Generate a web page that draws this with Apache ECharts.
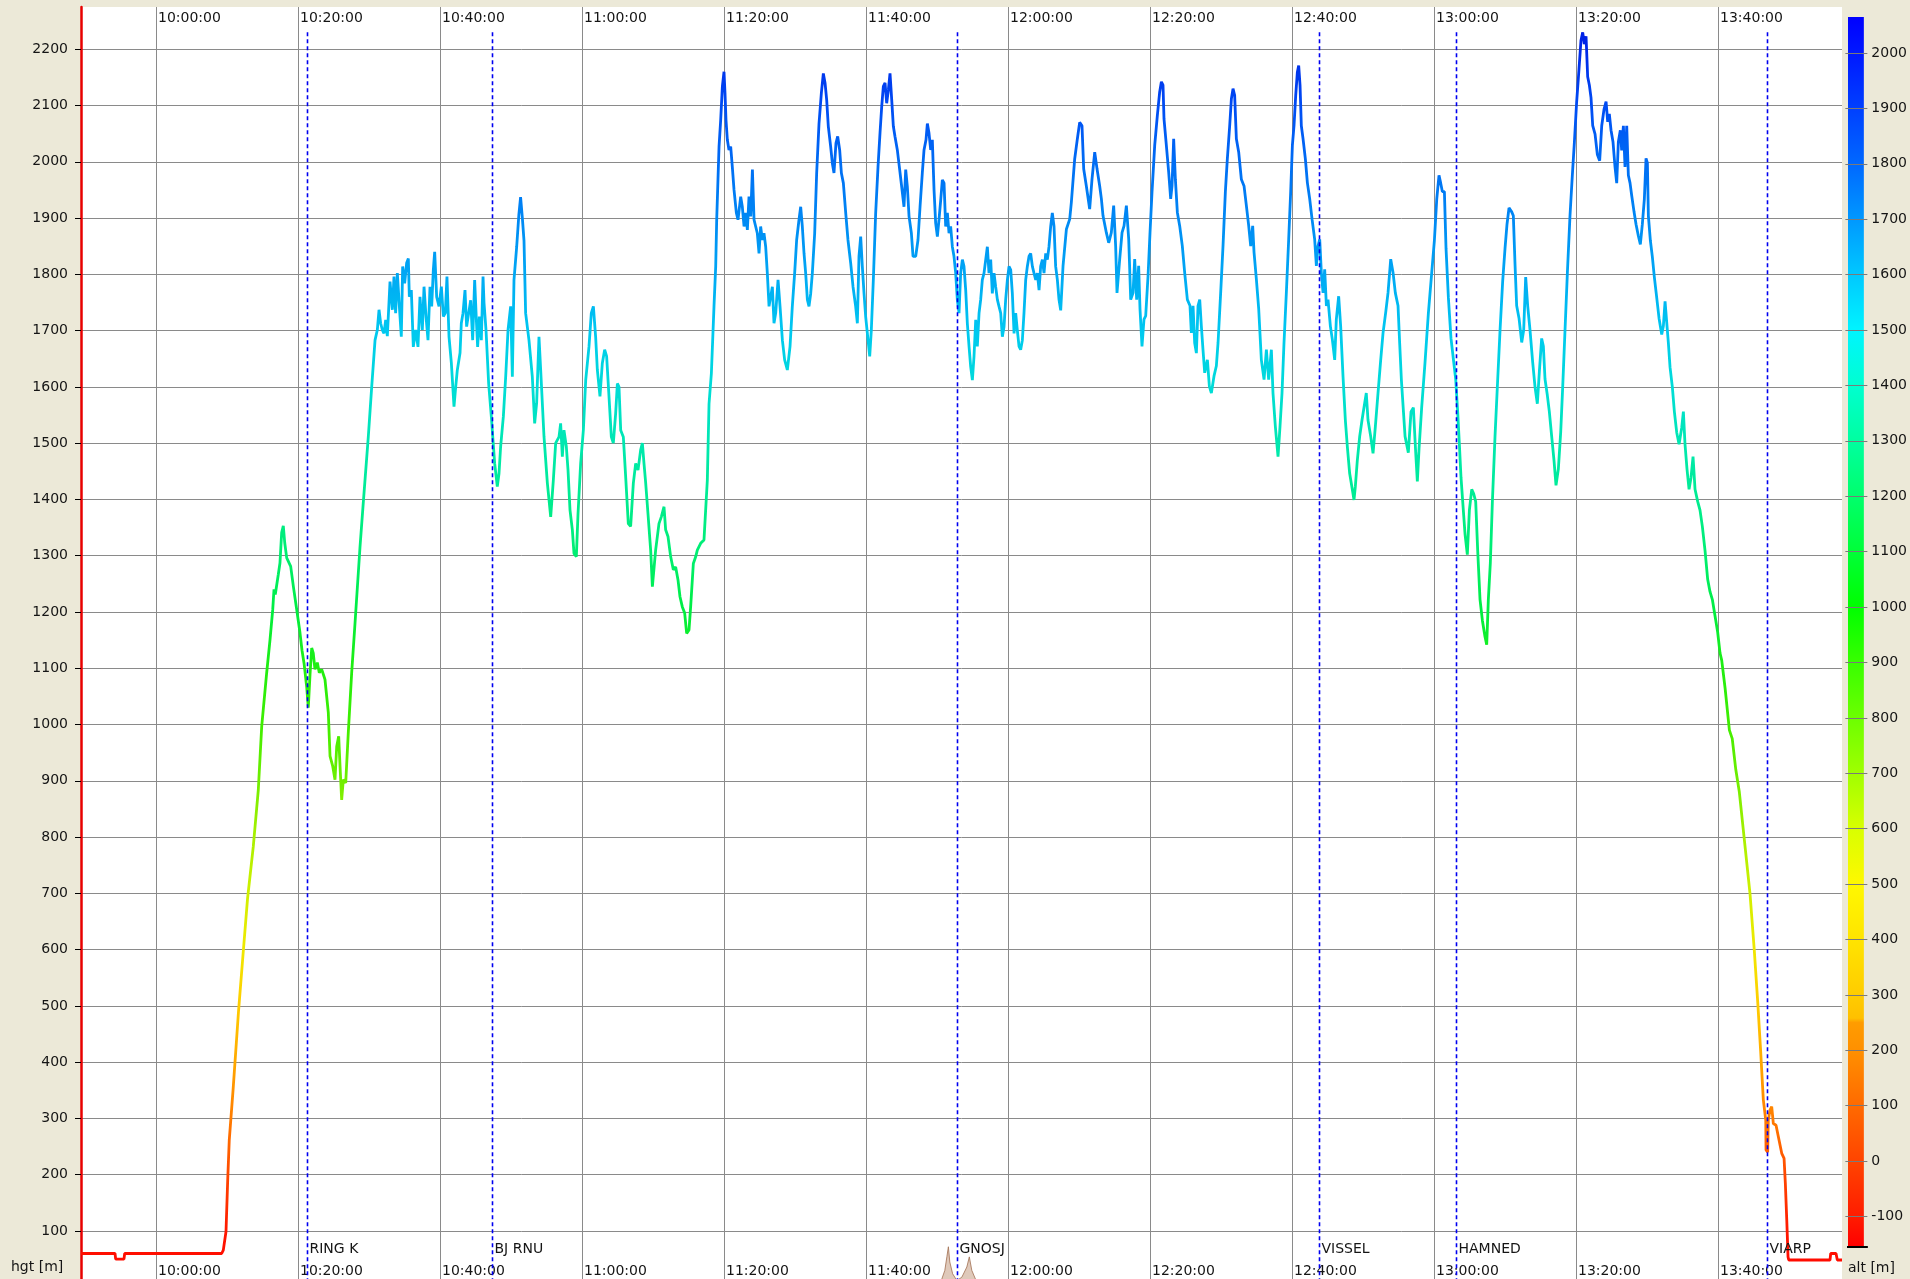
<!DOCTYPE html>
<html>
<head>
<meta charset="utf-8">
<title>Flight height profile</title>
<script src="https://cdn.jsdelivr.net/npm/echarts@6.0.0/dist/echarts.min.js"></script>
<style>
  html, body { margin: 0; padding: 0; background: #ece9d8; }
  #chart { width: 1910px; height: 1279px; }
</style>
</head>
<body>
<div id="chart"></div>
<script>
// ---------------- data ----------------
// Flight log: [minutes after 10:00:00, height in m]
const heightLog = [
  [-10.56, 60], [-5.77, 60], [-5.68, 50], [-4.51, 50], [-4.41, 60], [9.25, 60], [9.48, 66], [9.86, 99],
  [10.1, 191], [10.32, 262], [10.85, 350], [11.62, 490], [12.25, 590], [12.89, 690], [13.7, 783],
  [14.41, 884], [14.89, 997], [15.59, 1092], [16.06, 1151], [16.44, 1204], [16.62, 1240], [16.8, 1231],
  [17.23, 1267], [17.46, 1287], [17.7, 1341], [17.93, 1353], [18.13, 1323], [18.41, 1296], [18.97, 1281],
  [19.34, 1246], [19.82, 1204], [20.28, 1163], [20.56, 1132], [20.85, 1109], [21.23, 1066], [21.45, 1030],
  [21.69, 1088], [21.93, 1136], [22.15, 1127], [22.39, 1098], [22.72, 1110], [23.0, 1092], [23.34, 1098],
  [23.8, 1080], [24.27, 1021], [24.51, 944], [24.89, 926], [25.21, 902], [25.45, 961], [25.73, 979],
  [25.92, 926], [26.15, 866], [26.38, 902], [26.72, 896], [27.08, 985], [27.56, 1092], [28.03, 1180],
  [28.73, 1315], [29.2, 1395], [29.9, 1511], [30.38, 1600], [30.85, 1683],
  [31.17, 1701], [31.41, 1737], [31.64, 1713], [31.88, 1701], [32.11, 1695], [32.35, 1719], [32.58, 1690],
  [32.96, 1787], [33.29, 1737], [33.52, 1796], [33.75, 1731], [33.99, 1802], [34.32, 1734], [34.55, 1689],
  [34.74, 1814], [35.02, 1784], [35.3, 1820], [35.54, 1828], [35.68, 1760], [35.96, 1772], [36.24, 1671],
  [36.57, 1701], [36.9, 1671], [37.18, 1760], [37.51, 1701], [37.75, 1778], [38.03, 1725], [38.31, 1683],
  [38.59, 1778], [38.83, 1743], [39.06, 1808], [39.25, 1840], [39.53, 1760], [39.86, 1743], [40.19, 1778],
  [40.47, 1725], [40.75, 1731], [40.98, 1796], [41.27, 1689], [41.6, 1642], [41.97, 1565], [42.21, 1600],
  [42.44, 1630], [42.82, 1660], [43.0, 1713], [43.24, 1731], [43.52, 1772], [43.75, 1707], [44.04, 1731],
  [44.32, 1754], [44.6, 1683], [44.88, 1790], [45.12, 1719], [45.3, 1671], [45.54, 1725], [45.82, 1683],
  [46.06, 1796], [46.2, 1749], [46.48, 1701], [46.85, 1606], [47.23, 1547], [47.46, 1506], [47.7, 1464],
  [48.07, 1423], [48.31, 1446], [48.54, 1494], [48.92, 1547], [49.25, 1618], [49.58, 1701], [49.95, 1743],
  [50.19, 1618], [50.42, 1790], [50.8, 1849], [51.1, 1905], [51.35, 1937], [51.6, 1900], [51.83, 1860],
  [52.06, 1731], [52.53, 1683], [53.0, 1618], [53.33, 1535], [53.61, 1571], [53.94, 1689], [54.18, 1630],
  [54.65, 1511], [55.12, 1429], [55.59, 1369], [55.96, 1434], [56.29, 1500], [56.76, 1511], [56.99, 1535],
  [57.23, 1476], [57.46, 1523], [57.79, 1494], [58.03, 1452], [58.31, 1381], [58.64, 1346], [58.87, 1304],
  [59.2, 1298], [59.44, 1375], [59.81, 1464], [60.19, 1523], [60.52, 1612], [60.98, 1671], [61.31, 1731],
  [61.6, 1743], [61.92, 1689], [62.16, 1630], [62.53, 1583], [62.86, 1642], [63.19, 1666], [63.47, 1654],
  [63.8, 1583], [64.13, 1511], [64.41, 1500], [64.74, 1553], [64.98, 1606], [65.21, 1600], [65.45, 1523],
  [65.82, 1511], [66.15, 1440], [66.52, 1357], [66.85, 1352], [67.23, 1429], [67.56, 1464], [67.89, 1452],
  [68.26, 1488], [68.5, 1500], [68.73, 1464], [68.97, 1429], [69.29, 1375], [69.67, 1310], [69.91, 1245],
  [70.14, 1242], [70.37, 1310], [70.84, 1357], [71.17, 1369], [71.55, 1387], [71.78, 1346], [72.11, 1334],
  [72.49, 1298], [72.86, 1275], [73.19, 1280], [73.52, 1257], [73.8, 1227], [74.13, 1209], [74.46, 1198],
  [74.74, 1162], [75.07, 1168], [75.3, 1209], [75.68, 1286], [76.01, 1298], [76.24, 1310], [76.71, 1322],
  [77.18, 1328], [77.65, 1434], [77.89, 1570],
  [78.22, 1624], [78.59, 1743], [78.83, 1814], [78.97, 1897], [79.15, 1968], [79.3, 2027], [79.53, 2074],
  [79.77, 2134], [80.0, 2160], [80.14, 2122], [80.28, 2074], [80.47, 2039], [80.7, 2021], [80.94, 2027],
  [81.17, 1991], [81.41, 1950], [81.74, 1909], [81.97, 1897], [82.35, 1938], [82.58, 1920], [82.82, 1885],
  [83.05, 1909], [83.29, 1879], [83.52, 1938], [83.76, 1903], [84.0, 1986], [84.23, 1897], [84.46, 1885],
  [84.69, 1873], [84.93, 1837], [85.16, 1885], [85.4, 1861], [85.63, 1873], [85.87, 1849], [86.1, 1802],
  [86.34, 1743], [86.57, 1743], [86.81, 1778], [87.04, 1713], [87.28, 1731], [87.61, 1790], [87.89, 1743],
  [88.22, 1683], [88.54, 1648], [88.92, 1630], [89.3, 1672], [89.62, 1743], [89.95, 1802], [90.23, 1861],
  [90.56, 1897], [90.8, 1920], [91.03, 1885], [91.27, 1837], [91.5, 1802], [91.74, 1755], [91.97, 1743],
  [92.21, 1766], [92.44, 1802], [92.77, 1873], [93.05, 1980], [93.38, 2068], [93.71, 2122], [93.99, 2157],
  [94.23, 2140], [94.46, 2110], [94.69, 2063], [95.02, 2027], [95.26, 1997], [95.49, 1980], [95.77, 2033],
  [96.01, 2045], [96.29, 2021], [96.53, 1980], [96.81, 1962], [97.14, 1909], [97.46, 1861], [97.84, 1820],
  [98.17, 1778], [98.54, 1743], [98.78, 1713], [99.01, 1832], [99.25, 1867], [99.48, 1814], [99.72, 1766],
  [99.95, 1725], [100.19, 1695], [100.52, 1654], [100.75, 1701], [101.03, 1790], [101.36, 1909],
  [101.69, 1991], [101.97, 2051], [102.21, 2098], [102.44, 2134], [102.68, 2140], [102.91, 2104],
  [103.15, 2128], [103.38, 2157], [103.62, 2110], [103.85, 2063], [104.08, 2045], [104.41, 2021],
  [104.74, 1986], [105.02, 1956], [105.35, 1920], [105.59, 1986], [105.82, 1956], [106.06, 1903],
  [106.39, 1873], [106.62, 1832], [107.0, 1832], [107.32, 1861], [107.61, 1920], [107.93, 1980],
  [108.17, 2021], [108.45, 2039], [108.64, 2068], [108.87, 2051], [109.11, 2021], [109.34, 2039],
  [109.58, 1950], [109.81, 1891], [110.05, 1867], [110.28, 1897], [110.52, 1932], [110.75, 1968],
  [110.99, 1962], [111.22, 1885], [111.46, 1909], [111.69, 1873], [111.92, 1885], [112.16, 1849],
  [112.39, 1832], [112.63, 1802], [112.86, 1755], [113.1, 1731], [113.33, 1802], [113.57, 1826],
  [113.8, 1814], [114.04, 1772], [114.27, 1713], [114.51, 1672], [114.74, 1636], [114.98, 1612],
  [115.21, 1654], [115.45, 1719], [115.68, 1672], [115.92, 1731], [116.15, 1755], [116.38, 1790],
  [116.62, 1802], [116.85, 1802], [117.09, 1849], [117.32, 1802], [117.56, 1826], [117.79, 1766],
  [118.03, 1802], [118.26, 1778], [118.5, 1755], [118.73, 1743], [118.97, 1731], [119.2, 1689],
  [119.44, 1707], [119.67, 1755], [119.91, 1790], [120.14, 1814], [120.38, 1808], [120.61, 1766],
  [120.85, 1695], [121.08, 1731], [121.31, 1701], [121.55, 1672], [121.78, 1666], [122.02, 1683],
  [122.25, 1731], [122.49, 1790], [122.72, 1814], [122.96, 1832], [123.19, 1837], [123.43, 1814],
  [123.66, 1802], [123.9, 1790], [124.13, 1802], [124.37, 1772], [124.6, 1814], [124.84, 1826],
  [125.07, 1802], [125.31, 1837], [125.54, 1826], [125.77, 1849], [126.01, 1885], [126.24, 1909],
  [126.48, 1885], [126.71, 1814], [126.95, 1790], [127.18, 1755], [127.42, 1736],
  [127.75, 1815], [128.22, 1880], [128.69, 1898], [128.92, 1928], [129.39, 2005], [129.77, 2041],
  [130.09, 2070], [130.42, 2064], [130.66, 1987], [131.03, 1957], [131.5, 1916], [131.83, 1969],
  [132.21, 2017], [132.54, 1987], [132.91, 1957], [133.15, 1934], [133.38, 1904], [133.85, 1874],
  [134.18, 1856], [134.55, 1874], [134.88, 1922], [135.16, 1850], [135.35, 1767], [135.73, 1827],
  [136.06, 1874], [136.34, 1886], [136.67, 1922], [137.0, 1862], [137.28, 1755], [137.61, 1767],
  [137.84, 1827], [138.12, 1755], [138.4, 1815], [138.59, 1738], [138.87, 1672], [139.15, 1720],
  [139.39, 1726], [139.72, 1797], [140.0, 1874], [140.28, 1946], [140.66, 2029], [141.03, 2082],
  [141.36, 2124], [141.6, 2142], [141.83, 2136], [141.97, 2076], [142.3, 2029], [142.63, 1981],
  [142.91, 1934], [143.1, 1957], [143.33, 2041], [143.57, 1969], [143.85, 1910], [144.18, 1886],
  [144.55, 1850], [144.88, 1803], [145.26, 1755], [145.63, 1744], [145.82, 1696], [146.06, 1744],
  [146.29, 1678], [146.53, 1660], [146.76, 1744], [147.0, 1755], [147.23, 1708], [147.46, 1666],
  [147.7, 1625], [148.08, 1648], [148.36, 1601], [148.64, 1589], [149.01, 1619], [149.34, 1637],
  [149.58, 1678], [149.95, 1767], [150.28, 1850], [150.61, 1946], [150.89, 2005], [151.22, 2064],
  [151.46, 2112], [151.69, 2130], [151.92, 2118], [152.16, 2041], [152.49, 2017], [152.86, 1969],
  [153.24, 1957], [153.57, 1922], [153.9, 1886], [154.18, 1850], [154.46, 1886], [154.65, 1839],
  [154.98, 1791], [155.31, 1738], [155.68, 1648], [156.06, 1613], [156.39, 1666], [156.71, 1613],
  [157.09, 1666], [157.32, 1589], [157.65, 1530], [158.03, 1476], [158.31, 1530], [158.59, 1589],
  [158.87, 1678], [159.2, 1767], [159.53, 1862], [159.81, 1946], [160.05, 2029], [160.28, 2064],
  [160.52, 2118], [160.75, 2159], [160.94, 2171], [161.13, 2136], [161.31, 2064], [161.55, 2041],
  [161.88, 2005], [162.16, 1963], [162.49, 1934], [162.82, 1898], [163.19, 1862], [163.43, 1815],
  [163.66, 1850], [163.9, 1862], [164.13, 1803], [164.37, 1767], [164.6, 1809], [164.84, 1744],
  [165.07, 1755], [165.4, 1708], [165.68, 1684], [166.01, 1648], [166.24, 1720], [166.57, 1761],
  [166.85, 1708], [167.18, 1619], [167.51, 1541], [167.79, 1494], [168.12, 1446], [168.5, 1417],
  [168.73, 1399], [168.92, 1423], [169.2, 1470], [169.53, 1512], [169.86, 1541], [170.23, 1571],
  [170.46, 1589], [170.7, 1541], [171.08, 1512], [171.41, 1482], [171.74, 1530], [172.11, 1589],
  [172.49, 1648], [172.82, 1696], [173.19, 1732], [173.52, 1767], [173.9, 1827], [174.23, 1803],
  [174.55, 1767], [174.93, 1744], [175.16, 1678], [175.4, 1613],
  [175.92, 1512], [176.38, 1483], [176.76, 1556], [177.09, 1563], [177.42, 1483], [177.65, 1432],
  [177.89, 1490], [178.26, 1563], [178.73, 1643], [179.2, 1730], [179.67, 1802], [180.05, 1860],
  [180.38, 1933], [180.7, 1976], [180.94, 1962], [181.17, 1947], [181.46, 1947], [181.69, 1846],
  [182.02, 1759], [182.39, 1686], [182.72, 1650], [183.05, 1614], [183.33, 1556], [183.57, 1498],
  [183.8, 1439], [184.04, 1396], [184.37, 1338], [184.69, 1302], [184.98, 1381], [185.31, 1418],
  [185.59, 1410], [185.87, 1396], [186.15, 1309], [186.48, 1222], [186.81, 1185], [187.18, 1156],
  [187.42, 1142], [187.65, 1222], [187.93, 1287], [188.22, 1396], [188.59, 1512], [188.97, 1614],
  [189.3, 1701], [189.67, 1788], [190.0, 1846], [190.28, 1889], [190.56, 1918], [190.94, 1911],
  [191.17, 1904], [191.41, 1817], [191.64, 1744], [191.97, 1722], [192.35, 1679], [192.63, 1701],
  [192.91, 1795], [193.19, 1744], [193.52, 1701], [193.9, 1643], [194.23, 1599], [194.55, 1570],
  [194.84, 1628], [195.16, 1686], [195.4, 1672], [195.63, 1614], [195.96, 1585], [196.24, 1556],
  [196.57, 1512], [196.9, 1469], [197.18, 1425], [197.51, 1454], [197.84, 1519], [198.12, 1599],
  [198.45, 1701], [198.78, 1802], [199.15, 1904], [199.48, 1976], [199.77, 2035], [200.09, 2107],
  [200.42, 2165], [200.7, 2216], [200.94, 2230], [201.17, 2209], [201.41, 2223], [201.64, 2151],
  [201.88, 2136], [202.11, 2114], [202.35, 2064], [202.68, 2049], [203.0, 2013], [203.33, 2002],
  [203.62, 2064], [203.94, 2093], [204.23, 2107], [204.46, 2071], [204.69, 2085], [204.93, 2056],
  [205.21, 2035], [205.49, 1991], [205.73, 1962], [205.96, 2035], [206.24, 2056], [206.43, 2020],
  [206.67, 2064], [206.9, 1991], [207.14, 2064], [207.37, 1976], [207.61, 1962], [207.84, 1940],
  [208.17, 1911], [208.45, 1889], [208.78, 1868], [209.06, 1853], [209.34, 1889], [209.62, 1933],
  [209.86, 2006], [210.05, 1998], [210.19, 1904], [210.47, 1860], [210.75, 1831], [211.03, 1795],
  [211.36, 1759], [211.69, 1722], [212.07, 1693], [212.3, 1708], [212.54, 1752], [212.77, 1715],
  [213.0, 1679], [213.24, 1635], [213.57, 1599], [213.85, 1556], [214.18, 1519], [214.51, 1498],
  [214.88, 1527], [215.12, 1556], [215.35, 1498], [215.63, 1454], [215.92, 1418], [216.2, 1439],
  [216.48, 1476], [216.76, 1418], [217.14, 1396], [217.46, 1381], [217.79, 1352], [218.17, 1309],
  [218.54, 1258], [218.87, 1236], [219.2, 1222], [219.58, 1193], [219.95, 1164], [220.28, 1127],
  [220.52, 1114], [221.0, 1064], [221.6, 990], [222.0, 975], [222.5, 920], [223.0, 880], [223.9, 772],
  [224.5, 700], [225.1, 600], [225.6, 505], [226.0, 420], [226.38, 333], [226.72, 297], [226.76, 244],
  [226.99, 240], [227.08, 297], [227.32, 315], [227.56, 321], [227.79, 291], [228.17, 288], [228.49, 268],
  [228.97, 238], [229.3, 229], [229.48, 185], [229.68, 120], [229.86, 54], [229.96, 48.5], [235.77, 48.5],
  [235.87, 60], [236.62, 60], [236.8, 48.5], [237.46, 48.5]
];

// Ground profile poking above the lower edge near GNOSJ: [minutes after 10:00:00, m]
const terrainLog = [
  [109.8, 0], [110.6, 12], [111.1, 30], [111.4, 55], [111.6, 72], [111.8, 45], [112.2, 24], [112.8, 12],
  [113.5, 18], [114.2, 36], [114.55, 54], [114.9, 30], [115.5, 12], [116.2, 0]
];

// Turnpoints: [name, minutes after 10:00:00]
const waypoints = [
  ['RING K', 21.27], ['BJ RNU', 47.37], ['GNOSJ', 112.86],
  ['VISSEL', 163.85], ['HAMNED', 183.1], ['VIARP', 226.86]
];

// Axis extents and ticks
const timeRange = [-10.563, 237.46];           // minutes after 10:00:00
const timeTicks = [0, 20, 40, 60, 80, 100, 120, 140, 160, 180, 200, 220];
const hgtRange = [14.7, 2275];                 // visible height band of the plot
const hgtTicks = [100, 200, 300, 400, 500, 600, 700, 800, 900, 1000, 1100,
                  1200, 1300, 1400, 1500, 1600, 1700, 1800, 1900, 2000, 2100, 2200];
const altRange = [-155, 2065];
const altTicks = [-100, 0, 100, 200, 300, 400, 500, 600, 700, 800, 900, 1000,
                  1100, 1200, 1300, 1400, 1500, 1600, 1700, 1800, 1900, 2000];
const waypointLineTop = 2230;   // m, where the dashed turnpoint lines begin
const waypointLabelHgt = 68;    // m, height of the turnpoint names

// ---------------- styles ----------------
const FONT = 'DejaVu Sans';
const TEXT = '#151515';
const GRID_LINE = '#8a8a8a';

// line colour by height, one colour every 100 m from 0 to 2300
const hgtPalette = [
  '#ff0000', '#ff1800', '#ff4800', '#ff7c00', '#ffa800', '#ffcc00', '#f0e800', '#d0f000',
  '#a8f000', '#70ee00', '#40ee00', '#20ee10', '#00ee40', '#00ee70', '#00ec90', '#00e8b0',
  '#00dcd8', '#00c8f0', '#00a8f4', '#0088f4', '#006cf4', '#004cf4', '#0028e8', '#0010e0'
];

// colour scale bar stops (alt in m, top to bottom)
const altStops = [
  [2065, '#0000ff'], [2000, '#0018ff'], [1900, '#0040ff'], [1800, '#0068ff'], [1700, '#0098ff'],
  [1600, '#00c8ff'], [1500, '#00f4ff'], [1400, '#00ffd0'], [1300, '#00ffa0'], [1200, '#00ff6c'],
  [1100, '#00ff38'], [1000, '#00ff00'], [900, '#38ff00'], [800, '#6cff00'], [700, '#a0ff00'],
  [600, '#d8ff00'], [500, '#fff800'], [400, '#ffe400'], [300, '#ffcc00'], [258, '#ffc000'],
  [250, '#ff9c00'], [200, '#ff9000'], [100, '#ff6a00'], [0, '#ff4400'], [-100, '#ff1c00'],
  [-155, '#ff0000']
];

function pad2(n) { return (n < 10 ? '0' : '') + n; }
function clock(m) {
  const s = Math.round((600 + m) * 60);
  return pad2(Math.floor(s / 3600)) + ':' + pad2(Math.floor((s % 3600) / 60)) + ':' + pad2(s % 60);
}
function plain(v) { return String(v); }

const labelFont = { fontFamily: FONT, fontSize: 14, color: TEXT };

const chart = echarts.init(document.getElementById('chart'), null, { renderer: 'canvas' });

const option = {
  backgroundColor: '#ece9d8',
  animation: false,
  textStyle: { fontFamily: FONT },
  grid: [
    { left: 81, right: 68, top: 7, bottom: 0, show: true, backgroundColor: '#ffffff', borderWidth: 0 },
    { left: 1848, width: 22, top: 17, height: 1230, show: false }
  ],
  xAxis: [
    {
      gridIndex: 0, type: 'value', position: 'bottom', min: timeRange[0], max: timeRange[1],
      axisLine: { show: false, onZero: false },
      axisTick: { show: false, customValues: timeTicks },
      axisLabel: Object.assign({ inside: true, customValues: timeTicks, formatter: clock,
        align: 'left', padding: [0, 0, 0, 2], margin: 1 }, labelFont),
      splitLine: { show: true, lineStyle: { color: GRID_LINE, width: 1 } }
    },
    {
      gridIndex: 0, type: 'value', position: 'top', min: timeRange[0], max: timeRange[1],
      axisLine: { show: false, onZero: false },
      axisTick: { show: false, customValues: timeTicks },
      axisLabel: Object.assign({ inside: true, customValues: timeTicks, formatter: clock,
        align: 'left', padding: [0, 0, 0, 2], margin: 4 }, labelFont),
      splitLine: { show: false }
    },
    { gridIndex: 1, type: 'value', min: 0, max: 22, show: false, axisLine: { onZero: false } }
  ],
  yAxis: [
    {
      gridIndex: 0, type: 'value', min: hgtRange[0], max: hgtRange[1],
      axisLine: { show: true, onZero: false, lineStyle: { color: '#e80000', width: 2.5 } },
      axisTick: { show: true, length: 6, customValues: hgtTicks, lineStyle: { color: '#000', width: 1 } },
      axisLabel: Object.assign({ customValues: hgtTicks, margin: 13, formatter: plain }, labelFont),
      splitLine: { show: true, lineStyle: { color: GRID_LINE, width: 1 } }
    },
    {
      gridIndex: 1, type: 'value', position: 'right', min: altRange[0], max: altRange[1], z: 5,
      axisLine: { show: false, onZero: false },
      axisTick: { show: true, inside: true, length: 22, customValues: altTicks,
        lineStyle: { color: '#7a7a7a', width: 1 } },
      axisLabel: Object.assign({ customValues: altTicks, margin: 4, formatter: plain }, labelFont),
      splitLine: { show: false }
    }
  ],
  visualMap: {
    show: false, type: 'continuous', seriesIndex: 0, dimension: 1,
    min: 0, max: 2300, inRange: { color: hgtPalette }
  },
  series: [
    {
      name: 'hgt', type: 'line', xAxisIndex: 0, yAxisIndex: 0, z: 3,
      data: heightLog, showSymbol: false, symbol: 'none',
      lineStyle: { width: 2.8 }
    },
    {
      name: 'terrain', type: 'line', xAxisIndex: 0, yAxisIndex: 0, z: 2,
      data: terrainLog, showSymbol: false, symbol: 'none',
      lineStyle: { width: 1, color: 'rgba(160,110,80,0.8)' },
      areaStyle: { color: 'rgba(190,145,115,0.7)', origin: 'start' }
    },
    {
      name: 'turnpoints', type: 'custom', xAxisIndex: 0, yAxisIndex: 0, z: 4,
      data: waypoints.map(w => [w[1], 0]),
      renderItem(params, api) {
        const x = Math.round(api.coord([api.value(0), 0])[0]) + 0.5;
        const yTop = api.coord([0, waypointLineTop])[1];
        const yBot = params.coordSys.y + params.coordSys.height;
        const yLab = api.coord([0, waypointLabelHgt])[1];
        return {
          type: 'group',
          children: [
            { type: 'line', shape: { x1: x, y1: yTop, x2: x, y2: yBot },
              style: { stroke: '#0000f0', lineWidth: 1.6, lineDash: [4, 3] } },
            { type: 'text', x: x + 2, y: yLab,
              style: { text: waypoints[params.dataIndex][0], fontFamily: FONT, fontSize: 14,
                fill: TEXT, verticalAlign: 'middle', align: 'left' } }
          ]
        };
      }
    },
    {
      name: 'alt scale', type: 'custom', xAxisIndex: 2, yAxisIndex: 1, z: 1,
      data: [[0, 0]],
      renderItem(params, api) {
        const p0 = api.coord([0, altRange[1]]);
        const p1 = api.coord([18, altRange[0]]);
        const span = altRange[1] - altRange[0];
        const stops = altStops.map(s => ({ offset: (altRange[1] - s[0]) / span, color: s[1] }));
        return {
          type: 'group',
          children: [
            { type: 'rect', shape: { x: p0[0], y: p0[1], width: p1[0] - p0[0], height: p1[1] - p0[1] },
              style: { fill: new echarts.graphic.LinearGradient(0, 0, 0, 1, stops) } },
            { type: 'rect', shape: { x: p0[0] - 1, y: p1[1] - 1, width: p1[0] - p0[0] + 5, height: 2 },
              style: { fill: '#000' } }
          ]
        };
      }
    }
  ],
  graphic: [
    { type: 'text', left: 11, top: 1260, style: { text: 'hgt [m]', fontFamily: FONT, fontSize: 14, fill: TEXT } },
    { type: 'text', left: 1848, top: 1261, style: { text: 'alt [m]', fontFamily: FONT, fontSize: 14, fill: TEXT } }
  ]
};

chart.setOption(option);
</script>
</body>
</html>
